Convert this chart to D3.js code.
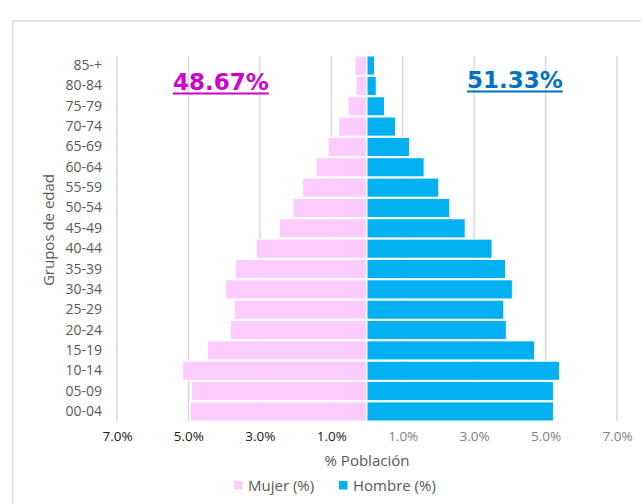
<!DOCTYPE html>
<html>
<head>
<meta charset="utf-8">
<script src="https://cdn.jsdelivr.net/npm/d3@7"></script>
<style>
  body { margin: 0; background: #fff; }
  svg { display: block; font-family: "Open Sans", sans-serif; }
</style>
</head>
<body>
<div id="chart"></div>
<script>
const grupos = ['00-04', '05-09', '10-14', '15-19', '20-24', '25-29', '30-34', '35-39', '40-44',
  '45-49', '50-54', '55-59', '60-64', '65-69', '70-74', '75-79', '80-84', '85-+'];
const mujer = [4.95, 4.92, 5.16, 4.47, 3.83, 3.72, 3.96, 3.69, 3.10,
  2.45, 2.07, 1.80, 1.43, 1.09, 0.79, 0.53, 0.31, 0.34];
const hombre = [5.22, 5.22, 5.39, 4.69, 3.90, 3.83, 4.07, 3.88, 3.50,
  2.75, 2.32, 2.01, 1.60, 1.19, 0.80, 0.49, 0.26, 0.21];
const tickVals = [-7, -5, -3, -1, 1, 3, 5, 7];
const totMujer = '48.67%';
const totHombre = '51.33%';

const w = 641;
const h = 504;

const svg = d3.select('#chart').append('svg').attr('width', w).attr('height', h);

// chart border
svg.append('rect').attr('x', 12.5).attr('y', 21).attr('width', 640).attr('height', 500)
  .attr('fill', 'none').attr('stroke', '#d9d9d9').attr('stroke-width', 1.5);

const x = d3.scaleLinear().domain([-7, 7]).range([117, 617]);
const y = d3.scaleBand().domain(grupos.slice().reverse()).range([56, 421]).paddingInner(0.06);

// gridlines
svg.append('g').selectAll('line').data(tickVals).enter().append('line')
  .attr('x1', d => x(d)).attr('x2', d => x(d))
  .attr('y1', 56).attr('y2', 421)
  .attr('stroke', '#d9d9d9').attr('stroke-width', 1.5);

// bars
const rows = grupos.map((g, i) => ({ g: g, m: mujer[i], h: hombre[i] }));

svg.append('g').selectAll('rect').data(rows).enter().append('rect')
  .attr('x', d => x(-d.m)).attr('y', d => y(d.g))
  .attr('width', d => x(0) - x(-d.m)).attr('height', y.bandwidth())
  .attr('fill', '#ffccff').attr('stroke', '#fff').attr('stroke-width', 1);

svg.append('g').selectAll('rect').data(rows).enter().append('rect')
  .attr('x', x(0)).attr('y', d => y(d.g))
  .attr('width', d => x(d.h) - x(0)).attr('height', y.bandwidth())
  .attr('fill', '#00b0f0').attr('stroke', '#fff').attr('stroke-width', 1);

// y axis labels
const yAxis = d3.axisLeft(y).tickSize(0).tickPadding(0);
const gy = svg.append('g').attr('transform', 'translate(102,0)').call(yAxis);
gy.select('.domain').remove();
gy.selectAll('text').attr('font-family', '"Open Sans", sans-serif')
  .attr('font-size', 14).attr('fill', '#595959');

// x axis labels
const xAxis = d3.axisBottom(x).tickValues(tickVals).tickSize(0).tickPadding(0)
  .tickFormat(d => Math.abs(d).toFixed(1) + '%');
const gx = svg.append('g').attr('transform', 'translate(0,431)').call(xAxis);
gx.select('.domain').remove();
gx.selectAll('text').attr('font-family', '"Open Sans", sans-serif')
  .attr('font-size', 13.5)
  .attr('fill', d => d < 0 ? '#1a1a1a' : '#7f7f7f');

// axis titles
svg.append('text').attr('x', x(0)).attr('y', 466).attr('text-anchor', 'middle')
  .attr('font-size', 15).attr('fill', '#595959').text('% Población');

svg.append('text').attr('transform', 'translate(54,230) rotate(-90)').attr('text-anchor', 'middle')
  .attr('font-size', 15).attr('fill', '#595959').text('Grupos de edad');

// totals
function total(txt, xs, yb, color) {
  const t = svg.append('text').attr('x', xs).attr('y', yb)
    .attr('font-family', '"DejaVu Sans", sans-serif').attr('font-weight', 'bold')
    .attr('font-size', 23).attr('fill', color).text(txt);
  const bb = t.node().getBBox();
  svg.append('line').attr('x1', xs).attr('x2', xs + bb.width)
    .attr('y1', yb + 4).attr('y2', yb + 4).attr('stroke', color).attr('stroke-width', 2);
}
total(totMujer, 173, 89.5, '#cc00cc');
total(totHombre, 467, 87.5, '#0070c0');

// legend
const legend = [
  { name: 'Mujer (%)', color: '#ffccff', x: 234 },
  { name: 'Hombre (%)', color: '#00b0f0', x: 339 }
];
const lg = svg.append('g').selectAll('g').data(legend).enter().append('g')
  .attr('transform', d => 'translate(' + d.x + ',481)');
lg.append('rect').attr('width', 8.5).attr('height', 8.5).attr('fill', d => d.color);
lg.append('text').attr('x', 14).attr('y', 10).attr('font-size', 15).attr('fill', '#595959')
  .text(d => d.name);
</script>
</body>
</html>
